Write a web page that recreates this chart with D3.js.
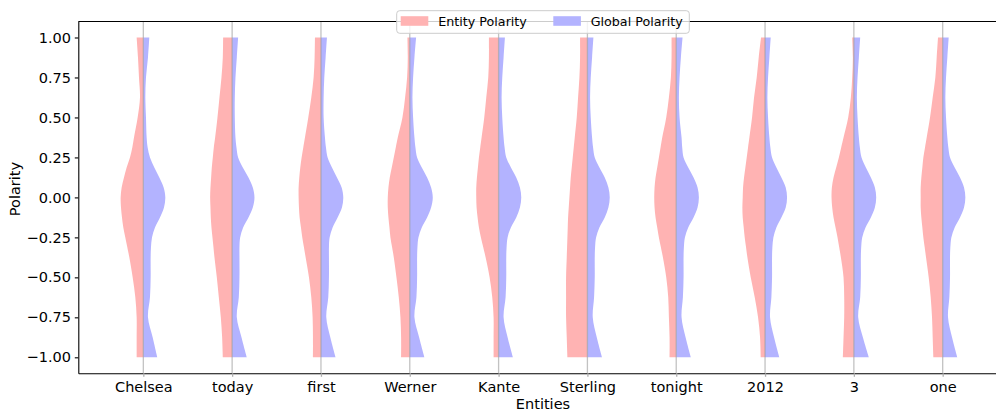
<!DOCTYPE html>
<html>
<head>
<meta charset="utf-8">
<script src="https://cdn.jsdelivr.net/npm/d3@7"></script>
<style>
  html, body { margin: 0; padding: 0; background: #fff; overflow: hidden; }
  svg { display: block; font-family: "DejaVu Sans", sans-serif; }
</style>
</head>
<body>
<script>
// Categories along the x axis
const entities = ["Chelsea", "today", "first", "Werner", "Kante", "Sterling", "tonight", "2012", "3", "one"];

// Polarity levels at which the kernel densities are sampled (top to bottom),
// denser around zero where the global distribution peaks
const polarityGrid = [1, 0.875, 0.75, 0.625, 0.5, 0.375, 0.3125, 0.25, 0.1875, 0.125, 0.0625, 0,
  -0.0625, -0.125, -0.1875, -0.25, -0.3125, -0.375, -0.5, -0.625, -0.75, -0.875, -1];

// Entity polarity density per entity (left halves)
const entityDensity = [
  [0.20, 0.16, 0.13, 0.10, 0.17, 0.28, 0.33, 0.40, 0.50, 0.58, 0.65, 0.68, 0.67, 0.64, 0.60, 0.54, 0.48, 0.42, 0.32, 0.24, 0.20, 0.20, 0.20],
  [0.27, 0.28, 0.32, 0.38, 0.44, 0.51, 0.55, 0.58, 0.61, 0.63, 0.65, 0.66, 0.65, 0.64, 0.62, 0.59, 0.56, 0.53, 0.46, 0.40, 0.34, 0.30, 0.28],
  [0.18, 0.19, 0.22, 0.29, 0.38, 0.48, 0.53, 0.58, 0.62, 0.65, 0.67, 0.67, 0.66, 0.64, 0.60, 0.56, 0.51, 0.46, 0.36, 0.29, 0.25, 0.24, 0.24],
  [0.07, 0.06, 0.08, 0.14, 0.22, 0.36, 0.42, 0.48, 0.54, 0.60, 0.64, 0.66, 0.66, 0.64, 0.61, 0.58, 0.53, 0.48, 0.40, 0.33, 0.28, 0.26, 0.26],
  [0.29, 0.29, 0.31, 0.37, 0.43, 0.51, 0.55, 0.59, 0.62, 0.65, 0.67, 0.67, 0.66, 0.63, 0.59, 0.53, 0.46, 0.39, 0.27, 0.19, 0.15, 0.15, 0.15],
  [0.22, 0.22, 0.24, 0.28, 0.32, 0.38, 0.41, 0.44, 0.47, 0.50, 0.52, 0.54, 0.56, 0.58, 0.59, 0.60, 0.61, 0.62, 0.64, 0.64, 0.64, 0.62, 0.60],
  [0.14, 0.14, 0.16, 0.22, 0.30, 0.42, 0.47, 0.52, 0.57, 0.62, 0.65, 0.66, 0.65, 0.62, 0.57, 0.52, 0.46, 0.40, 0.30, 0.24, 0.22, 0.20, 0.20],
  [0.12, 0.19, 0.25, 0.33, 0.39, 0.47, 0.51, 0.55, 0.59, 0.63, 0.66, 0.67, 0.68, 0.67, 0.64, 0.61, 0.57, 0.53, 0.43, 0.31, 0.21, 0.15, 0.13],
  [0.05, 0.03, 0.05, 0.09, 0.17, 0.31, 0.38, 0.45, 0.53, 0.61, 0.66, 0.67, 0.65, 0.61, 0.55, 0.49, 0.44, 0.39, 0.31, 0.29, 0.29, 0.31, 0.33],
  [0.14, 0.18, 0.22, 0.30, 0.38, 0.48, 0.53, 0.58, 0.61, 0.64, 0.66, 0.66, 0.66, 0.64, 0.61, 0.58, 0.54, 0.50, 0.42, 0.36, 0.32, 0.30, 0.28]
];

// Global polarity density per entity (right halves)
const globalDensity = [
  [0.18, 0.14, 0.08, 0.06, 0.08, 0.10, 0.13, 0.20, 0.33, 0.48, 0.61, 0.66, 0.62, 0.50, 0.35, 0.26, 0.23, 0.22, 0.22, 0.20, 0.14, 0.28, 0.42],
  [0.18, 0.14, 0.10, 0.08, 0.08, 0.10, 0.13, 0.18, 0.32, 0.49, 0.62, 0.67, 0.62, 0.49, 0.33, 0.24, 0.22, 0.22, 0.22, 0.20, 0.14, 0.28, 0.44],
  [0.18, 0.14, 0.10, 0.08, 0.08, 0.12, 0.15, 0.20, 0.33, 0.48, 0.62, 0.67, 0.63, 0.50, 0.35, 0.26, 0.24, 0.24, 0.24, 0.22, 0.16, 0.28, 0.44],
  [0.19, 0.14, 0.10, 0.08, 0.10, 0.14, 0.17, 0.22, 0.36, 0.52, 0.64, 0.69, 0.64, 0.52, 0.36, 0.26, 0.23, 0.22, 0.22, 0.20, 0.14, 0.28, 0.44],
  [0.19, 0.15, 0.11, 0.09, 0.11, 0.15, 0.18, 0.23, 0.37, 0.53, 0.64, 0.68, 0.64, 0.53, 0.37, 0.27, 0.24, 0.23, 0.23, 0.21, 0.15, 0.27, 0.43],
  [0.18, 0.14, 0.10, 0.08, 0.10, 0.14, 0.17, 0.22, 0.36, 0.52, 0.63, 0.67, 0.63, 0.52, 0.36, 0.26, 0.23, 0.22, 0.22, 0.20, 0.16, 0.28, 0.44],
  [0.19, 0.14, 0.10, 0.08, 0.10, 0.16, 0.18, 0.22, 0.36, 0.52, 0.64, 0.68, 0.64, 0.52, 0.36, 0.26, 0.23, 0.22, 0.22, 0.20, 0.16, 0.28, 0.44],
  [0.17, 0.13, 0.09, 0.07, 0.09, 0.13, 0.16, 0.21, 0.34, 0.49, 0.62, 0.66, 0.62, 0.49, 0.34, 0.25, 0.22, 0.21, 0.21, 0.19, 0.15, 0.27, 0.43],
  [0.19, 0.15, 0.11, 0.09, 0.11, 0.15, 0.18, 0.23, 0.36, 0.51, 0.63, 0.67, 0.63, 0.51, 0.35, 0.25, 0.22, 0.21, 0.21, 0.19, 0.13, 0.27, 0.45],
  [0.18, 0.14, 0.10, 0.08, 0.10, 0.14, 0.17, 0.22, 0.36, 0.52, 0.64, 0.68, 0.64, 0.52, 0.36, 0.26, 0.23, 0.22, 0.22, 0.20, 0.16, 0.28, 0.44]
];

// Axis tick values and series names
const yTicks = [1, 0.75, 0.5, 0.25, 0, -0.25, -0.5, -0.75, -1];
const seriesNames = ["Entity Polarity", "Global Polarity"];
const seriesColors = ["#ffb3b3", "#b3b3ff"];

const W = 996, H = 412;
const plot = { left: 78.3, right: 1007.7, top: 21.5, bottom: 373.3 };

const svg = d3.select("body").append("svg")
  .attr("width", W).attr("height", H);

const x = d3.scaleLinear()
  .domain([-0.732, entities.length - 1 + 0.732])
  .range([plot.left, plot.right]);

const y = d3.scaleLinear()
  .domain([-1.1, 1.1])
  .range([plot.bottom, plot.top]);

// Half-width of a violin for a given density
const w = d3.scaleLinear().domain([0, 0.69]).range([0, 23]);

const curve = d3.curveCatmullRom.alpha(0.5);

// Violins: left half for entity polarity, right half for global polarity
const violins = svg.append("g");
entities.forEach((name, i) => {
  const cx = x(i);
  const half = sign => d3.area()
    .curve(curve)
    .y((d, k) => y(polarityGrid[k]))
    .x0(cx)
    .x1(d => cx + sign * w(d));
  violins.append("path")
    .attr("d", half(-1)(entityDensity[i]))
    .attr("fill", seriesColors[0]);
  violins.append("path")
    .attr("d", half(1)(globalDensity[i]))
    .attr("fill", seriesColors[1]);
});

// Vertical grid lines at each entity
svg.append("g")
  .selectAll("line")
  .data(entities)
  .join("line")
  .attr("x1", (d, i) => x(i)).attr("x2", (d, i) => x(i))
  .attr("y1", plot.top).attr("y2", plot.bottom)
  .attr("stroke", "#999")
  .attr("stroke-opacity", 0.6)
  .attr("stroke-width", 1.3);

// Y axis
const fmt = v => d3.format(".2f")(v).replace("-", "\u2212");
const yAxis = svg.append("g")
  .attr("transform", `translate(${plot.left},0)`)
  .call(d3.axisLeft(y).tickValues(yTicks).tickFormat(fmt).tickSize(3.5).tickPadding(3.8).tickSizeOuter(0));
yAxis.select(".domain").attr("stroke", "#000").attr("stroke-width", 1.1);
yAxis.selectAll(".tick line").attr("stroke", "#000").attr("stroke-width", 1.1);
yAxis.selectAll(".tick text")
  .attr("font-family", "DejaVu Sans").attr("font-size", "14.5px").attr("fill", "#000");

// X axis
const xAxis = svg.append("g")
  .attr("transform", `translate(0,${plot.bottom})`)
  .call(d3.axisBottom(x).tickValues(d3.range(entities.length)).tickFormat(i => entities[i]).tickSize(3.5).tickPadding(4.5).tickSizeOuter(0));
xAxis.select(".domain").attr("stroke", "#000").attr("stroke-width", 1.1);
xAxis.selectAll(".tick line").attr("stroke", "#b0b0b0").attr("stroke-width", 1.3);
xAxis.selectAll(".tick text")
  .attr("font-family", "DejaVu Sans").attr("font-size", "14.5px").attr("fill", "#000");

// Top spine
svg.append("line")
  .attr("x1", plot.left).attr("x2", plot.right)
  .attr("y1", plot.top).attr("y2", plot.top)
  .attr("stroke", "#000").attr("stroke-width", 1.1);

// Axis titles
svg.append("text")
  .attr("x", (plot.left + plot.right) / 2).attr("y", 409)
  .attr("text-anchor", "middle")
  .attr("font-size", "14.5px")
  .text("Entities");

svg.append("text")
  .attr("transform", `translate(19.5,189) rotate(-90)`)
  .attr("text-anchor", "middle")
  .attr("font-size", "14.5px")
  .text("Polarity");

// Legend
const legend = svg.append("g");
legend.append("rect")
  .attr("x", 396.7).attr("y", 10.7)
  .attr("width", 292.6).attr("height", 22.6)
  .attr("rx", 3)
  .attr("fill", "#fff").attr("fill-opacity", 0.8)
  .attr("stroke", "#ccc").attr("stroke-width", 1);
const legendItems = [
  { px: 400.7, tx: 438.3 },
  { px: 553.3, tx: 590.7 }
];
legendItems.forEach((item, k) => {
  legend.append("rect")
    .attr("x", item.px).attr("y", 16.2)
    .attr("width", 27.6).attr("height", 9.6)
    .attr("fill", seriesColors[k]);
  legend.append("text")
    .attr("x", item.tx).attr("y", 25.6)
    .attr("font-size", "12.7px")
    .text(seriesNames[k]);
});
</script>
</body>
</html>
